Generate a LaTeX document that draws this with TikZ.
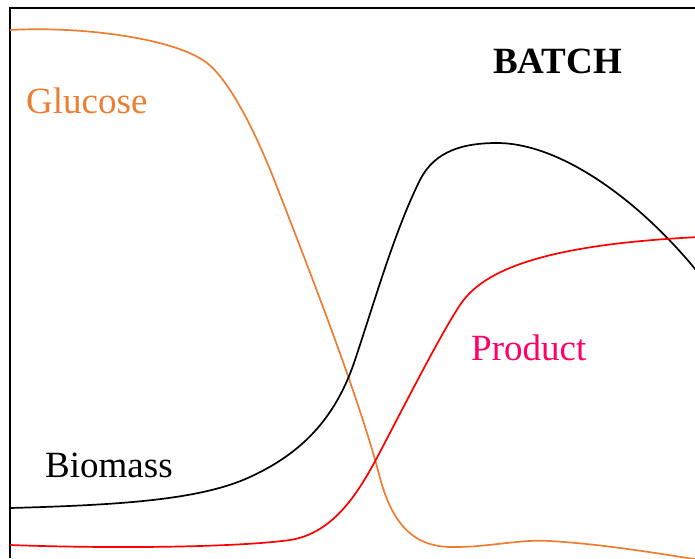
\documentclass[tikz,border=0pt]{standalone}
\usepackage{fontspec}
\setmainfont{Liberation Serif}
\definecolor{gluc}{HTML}{ED7D31}
\definecolor{prodtxt}{HTML}{FF0066}
\definecolor{prodline}{HTML}{FF0000}
\begin{document}
\begin{tikzpicture}[x=1pt,y=-1pt,
  frame/.style={line width=2pt,black},
  curve/.style={line width=1.7pt},
  lbl/.style={anchor=base west,inner sep=0pt,font=\fontsize{37}{40}\selectfont}]
\useasboundingbox (0,0) rectangle (695,558);
\draw[frame] (10,558) -- (10,8) -- (695,8);
\begin{scope}
\clip (10,8) rectangle (695,558);
\draw[curve,gluc] (10,30) .. controls (80,26) and (175,38) .. (207,63)
  .. controls (229,80) and (255,130) .. (277,187)
  .. controls (310,272) and (360,400) .. (380,478)
  .. controls (393,526) and (415,548) .. (455,547)
  .. controls (490,547) and (520,539) .. (550,541)
  .. controls (600,544) and (650,552) .. (700,560);
\draw[curve,black] (10,508) .. controls (120,505) and (200,500) .. (250,477)
  .. controls (300,454) and (335,420) .. (355,360)
  .. controls (375,300) and (395,230) .. (420,180)
  .. controls (435,150) and (465,143) .. (497,143)
  .. controls (560,143) and (640,200) .. (700,275);
\draw[curve,prodline] (10,545) .. controls (120,549) and (240,547) .. (290,540)
  .. controls (335,533) and (360,490) .. (380,452)
  .. controls (400,414) and (440,335) .. (460,305)
  .. controls (480,275) and (530,245) .. (700,237);
\end{scope}
\node[lbl,text=gluc] (glucose) at (26,113) {Glucose};
\node[lbl,font=\fontsize{37}{40}\selectfont\bfseries] (batch) at (493,73) {BATCH};
\node[lbl] (biomass) at (45,477) {Biomass};
\node[lbl,text=prodtxt] (product) at (471,360) {Product};
\end{tikzpicture}
\end{document}
